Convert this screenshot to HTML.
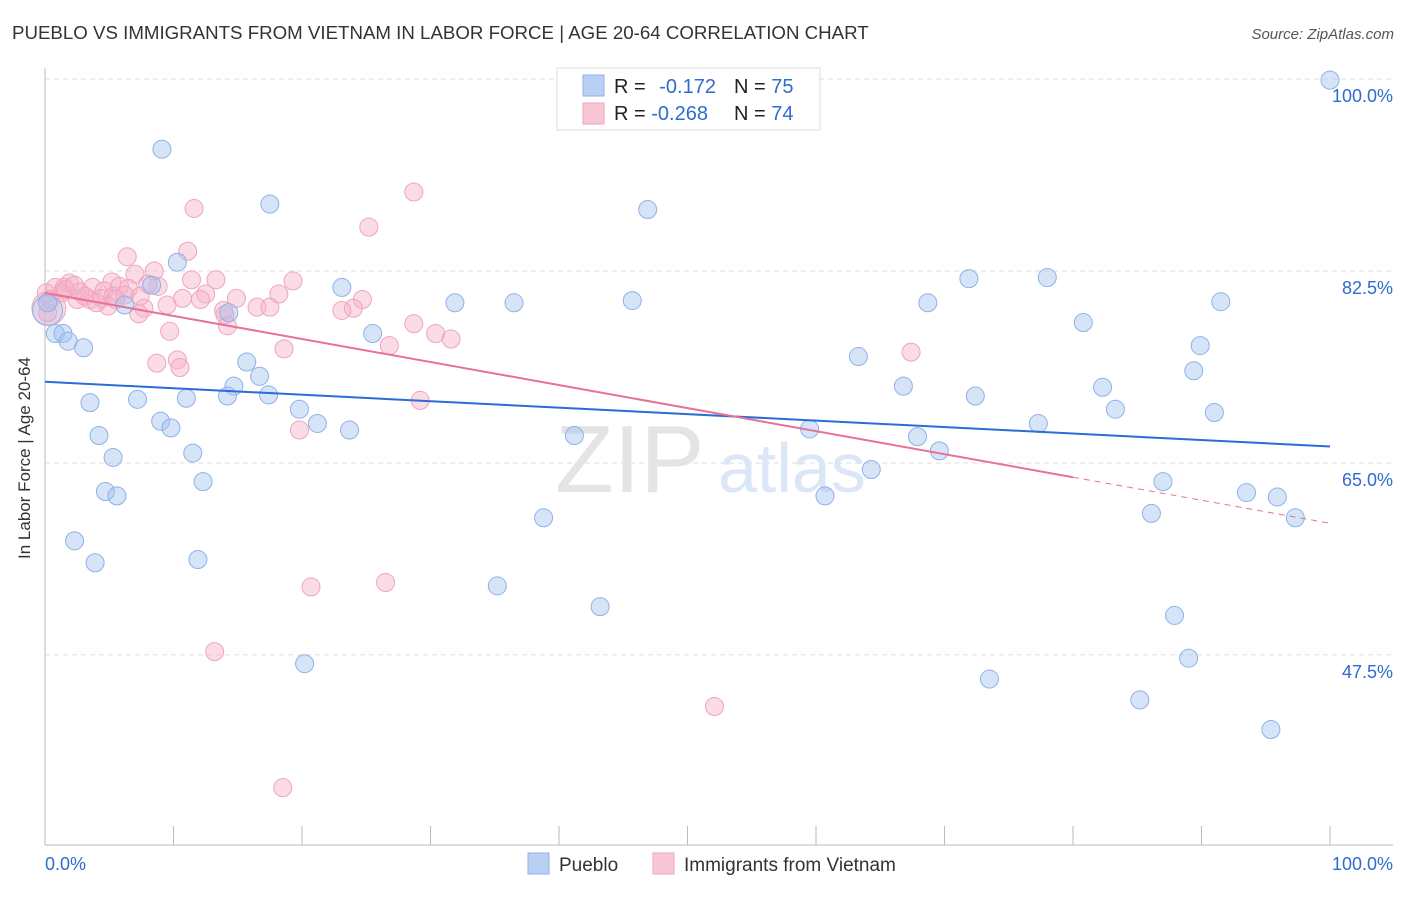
<!DOCTYPE html>
<html><head><meta charset="utf-8"><style>
body{margin:0;background:#fff;font-family:"Liberation Sans",sans-serif}
svg text{font-family:"Liberation Sans",sans-serif}
</style></head><body>
<svg id="chart" width="1406" height="892" viewBox="0 0 1406 892">
<text x="12" y="39" font-size="18.7" fill="#333">PUEBLO VS IMMIGRANTS FROM VIETNAM IN LABOR FORCE | AGE 20-64 CORRELATION CHART</text>
<text x="1394" y="39" font-size="15" fill="#555" font-style="italic" text-anchor="end">Source: ZipAtlas.com</text>
<text x="30" y="458" font-size="17" fill="#333" text-anchor="middle" transform="rotate(-90 30 458)">In Labor Force | Age 20-64</text>
<g id="grid"></g>
<text x="555" y="492" font-size="96" fill="#e4e4e4" font-family="Liberation Serif">ZIP</text>
<text x="718" y="492" font-size="70" fill="#dbe6f6">atlas</text>
<g id="pts"></g>
<g id="trend"></g>
<g>
<rect x="557" y="68" width="263" height="62" fill="#fff" stroke="#ddd"/>
<rect x="583" y="75" width="21" height="21" fill="#b9cff3" stroke="#8fb1e8"/>
<rect x="583" y="103" width="21" height="21" fill="#f9c6d5" stroke="#eea5bd"/>
<text x="614" y="93" font-size="20" fill="#222">R = <tspan fill="#2f6bd1" dx="8">-0.172</tspan></text>
<text x="734" y="93" font-size="20" fill="#222">N = <tspan fill="#2f6bd1">75</tspan></text>
<text x="614" y="120" font-size="20" fill="#222">R = <tspan fill="#2f6bd1">-0.268</tspan></text>
<text x="734" y="120" font-size="20" fill="#222">N = <tspan fill="#2f6bd1">74</tspan></text>
</g>
<g>
<rect x="528" y="853" width="21" height="21" fill="#b9cff3" stroke="#8fb1e8"/>
<text x="559" y="871" font-size="19" fill="#333">Pueblo</text>
<rect x="653" y="853" width="21" height="21" fill="#f9c6d5" stroke="#eea5bd"/>
<text x="684" y="871" font-size="19" fill="#333">Immigrants from Vietnam</text>
</g>
</svg>
<script>
const blueX=[100,42.6,9.1,17.5,46.9,10.3,71.9,78.0,23.1,8.3,31.9,36.5,45.7,68.7,91.5,6.2,14.3,80.8,0.8,1.4,25.5,1.8,3.0,89.9,63.3,15.7,16.7,89.4,14.7,66.8,82.3,72.4,7.2,11.0,14.2,17.4,3.5,19.8,83.3,91.0,9.0,9.8,21.2,23.7,59.5,77.3,4.2,41.2,67.9,69.6,11.5,5.3,64.3,12.3,87.0,4.7,5.6,60.7,93.5,95.9,97.3,38.8,86.1,2.3,3.9,11.9,35.2,43.2,87.9,89.0,20.2,73.5,85.2,95.4,0.2];
const blueY=[99.9,99.8,93.6,88.6,88.1,83.3,81.8,81.9,81.0,81.2,79.6,79.6,79.8,79.6,79.7,79.4,78.7,77.8,76.8,76.8,76.8,76.1,75.5,75.7,74.7,74.2,72.9,73.4,72.0,72.0,71.9,71.1,70.8,70.9,71.1,71.2,70.5,69.9,69.9,69.6,68.8,68.2,68.6,68.0,68.1,68.6,67.5,67.5,67.4,66.1,65.9,65.5,64.4,63.3,63.3,62.4,62.0,62.0,62.3,61.9,60.0,60.0,60.4,57.9,55.9,56.2,53.8,51.9,51.1,47.2,46.7,45.3,43.4,40.7,79.6];
const pinkX=[28.7,11.6,25.2,11.1,6.4,8.5,7.0,13.3,19.3,11.4,5.2,1.9,0.8,1.5,3.7,5.8,6.5,8.8,8.0,0.1,2.7,4.6,1.3,2.5,3.5,5.3,4.4,6.2,12.5,14.9,18.2,24.7,10.7,0.4,4.9,7.7,9.5,7.3,13.9,16.5,17.5,24.0,23.1,14.0,0.2,28.7,9.7,14.2,30.4,31.6,26.8,18.6,67.4,10.3,8.7,10.5,29.2,19.8,20.7,26.5,13.2,52.1,18.5,1.6,3.1,5.5,4.0,7.4,2.3,12.1];
const pinkY=[89.7,88.2,86.5,84.3,83.8,82.5,82.2,81.7,81.6,81.7,81.5,81.4,81.0,81.0,81.0,81.1,80.9,81.1,81.3,80.5,80.6,80.7,80.5,79.9,79.9,80.2,80.0,80.3,80.4,80.0,80.4,79.9,80.0,79.9,79.3,79.1,79.4,78.6,78.9,79.2,79.2,79.1,78.9,78.5,78.7,77.7,77.0,77.5,76.8,76.3,75.7,75.4,75.1,74.4,74.1,73.7,70.7,68.0,53.7,54.1,47.8,42.8,35.4,80.8,80.2,79.9,79.6,80.2,81.2,79.9];
const bigBlueX=[0.2], bigBlueY=[78.9];
const bigPinkX=[0.3], bigPinkY=[79.1];
const yTicks=[100,82.5,65,47.5];
const yTickLabels=["100.0%","82.5%","65.0%","47.5%"];
const blueTrend=[72.4,66.5];
const pinkTrend=[80.5,59.5];
const pinkSolidEnd=80;
const X=v=>45+v*12.85, Y=v=>79+(100-v)*10.97;
const NS="http://www.w3.org/2000/svg";
function mk(tag,attrs,parent){const e=document.createElementNS(NS,tag);for(const k in attrs)e.setAttribute(k,attrs[k]);parent.appendChild(e);return e;}
const grid=document.getElementById('grid');
yTicks.forEach((t,i)=>{
  const l=mk('line',{x1:45,x2:1393,y1:Y(t),y2:Y(t),stroke:'#ddd','stroke-dasharray':'5,4'},grid);
  
  
  const tx=mk('text',{x:1393,y:Y(t)+23,'font-size':18,fill:'#2f6bd1','text-anchor':'end'},grid);
  tx.textContent=yTickLabels[i];
  
  
});
let a=mk('line',{x1:45,x2:45,y1:68,y2:845,stroke:'#bbb'},grid);


a=mk('line',{x1:45,x2:1393,y1:845,y2:845,stroke:'#bbb'},grid);


for(let i=1;i<=10;i++){const t=mk('line',{x1:X(i*10),x2:X(i*10),y1:826,y2:845,stroke:'#bbb'},grid);
  
  }
let xl=mk('text',{x:45,y:870,'font-size':18,fill:'#2f6bd1'},grid);xl.textContent='0.0%';


xl=mk('text',{x:1393,y:870,'font-size':18,fill:'#2f6bd1','text-anchor':'end'},grid);xl.textContent='100.0%';


const pts=document.getElementById('pts');
bigPinkX.forEach((x,i)=>{const c=mk('circle',{cx:X(x),cy:Y(bigPinkY[i]),r:17,fill:'rgba(246,178,200,0.45)',stroke:'#eea5bd','stroke-width':1},pts);
  
  });
pinkX.forEach((x,i)=>{const c=mk('circle',{cx:X(x),cy:Y(pinkY[i]),r:9,fill:'rgba(246,178,200,0.45)',stroke:'#eea5bd','stroke-width':1},pts);
  
  });
bigBlueX.forEach((x,i)=>{const c=mk('circle',{cx:X(x),cy:Y(bigBlueY[i]),r:15,fill:'rgba(165,195,240,0.3)',stroke:'#8fb1e8','stroke-width':1},pts);
  
  });
blueX.forEach((x,i)=>{const c=mk('circle',{cx:X(x),cy:Y(blueY[i]),r:9,fill:'rgba(165,195,240,0.45)',stroke:'#8fb1e8','stroke-width':1},pts);
  
  });
const tr=document.getElementById('trend');
let l=mk('line',{x1:X(0),y1:Y(blueTrend[0]),x2:X(100),y2:Y(blueTrend[1]),stroke:'#2a6dd6','stroke-width':2},tr);


const pm=pinkTrend[0]+(pinkTrend[1]-pinkTrend[0])*pinkSolidEnd/100;
l=mk('line',{x1:X(0),y1:Y(pinkTrend[0]),x2:X(pinkSolidEnd),y2:Y(pm),stroke:'#e8709a','stroke-width':2},tr);


l=mk('line',{x1:X(pinkSolidEnd),y1:Y(pm),x2:X(100),y2:Y(pinkTrend[1]),stroke:'#e8709a','stroke-width':1,'stroke-dasharray':'6,5'},tr);


</script>
</body></html>
